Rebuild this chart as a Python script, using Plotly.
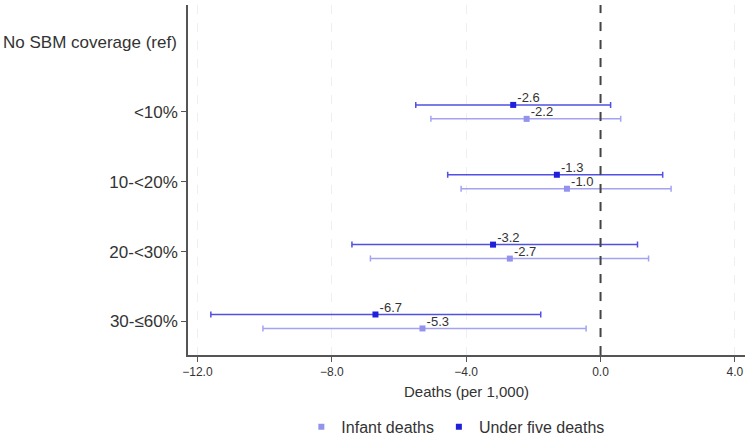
import plotly.graph_objects as go

categories = ["No SBM coverage (ref)", "<10%", "10-<20%", "20-<30%", "30-≤60%"]
# Estimates (only non-reference categories)
u5_est = [-2.6, -1.3, -3.2, -6.7]
u5_lo = [-5.5, -4.55, -7.4, -11.6]
u5_hi = [0.3, 1.85, 1.1, -1.78]
inf_est = [-2.2, -1.0, -2.7, -5.3]
inf_lo = [-5.05, -4.15, -6.85, -10.05]
inf_hi = [0.6, 2.1, 1.43, -0.43]
u5_labels = ["-2.6", "-1.3", "-3.2", "-6.7"]
inf_labels = ["-2.2", "-1.0", "-2.7", "-5.3"]
xticks = [-12, -8, -4, 0, 4]

ypos = list(range(1, len(categories)))
off = 0.1
lab = 0.085
FONT = "Liberation Sans, Arial"

fig = go.Figure()

series = [
    ("Infant deaths", inf_est, inf_lo, inf_hi, inf_labels, +off, "#9393ee", "#a3a3f2"),
    ("Under five deaths", u5_est, u5_lo, u5_hi, u5_labels, -off, "#2020dc", "#5050e4"),
]
for name, est, lo, hi, labels, o, mcol, lcol in series:
    fig.add_trace(go.Scatter(
        x=est, y=[p + o for p in ypos], mode="markers",
        name=name,
        marker=dict(symbol="square", size=6, color=mcol),
        error_x=dict(type="data", symmetric=False,
                     array=[h - e for h, e in zip(hi, est)],
                     arrayminus=[e - l for e, l in zip(est, lo)],
                     color=lcol, thickness=1.5, width=3),
    ))
for name, est, lo, hi, labels, o, mcol, lcol in series:
    fig.add_trace(go.Scatter(
        x=est, y=[p + o - lab for p in ypos], mode="markers+text",
        marker=dict(size=5, opacity=0),
        text=labels, textposition="middle right", showlegend=False,
        textfont=dict(family=FONT, size=13, color="#333333"),
        hoverinfo="skip",
    ))

fig.add_shape(type="line", x0=0, x1=0, xref="x", y0=0, y1=1, yref="paper",
              line=dict(color="#444444", width=2, dash="dash"))

fig.add_annotation(x=0, xref="paper", xanchor="right", xshift=-9,
                   y=0, yref="y", text=categories[0], showarrow=False,
                   font=dict(family=FONT, size=17, color="#333333"))

fig.update_layout(
    width=749, height=437,
    margin=dict(l=188, r=4, t=5, b=82, autoexpand=False),
    plot_bgcolor="white", paper_bgcolor="white",
    font=dict(family=FONT, color="#333333"),
    showlegend=True,
    legend=dict(orientation="h", x=0.48, xanchor="center", y=-0.205, yanchor="middle",
                font=dict(size=16), tracegroupgap=0),
    xaxis=dict(range=[-12.28, 4.3], tickvals=xticks, tickformat=".1f",
               automargin=False,
               showline=True, linecolor="#555555", linewidth=1.5,
               ticks="outside", ticklen=5, tickcolor="#555555",
               tickfont=dict(size=12), zeroline=False,
               showgrid=True, gridcolor="#efefef", griddash="dash",
               title=dict(text="Deaths (per 1,000)", font=dict(size=15), standoff=8)),
    yaxis=dict(range=[4.48, -0.53], tickvals=ypos, ticktext=categories[1:],
               automargin=False,
               showline=True, linecolor="#555555", linewidth=1.5,
               ticks="outside", ticklen=5, tickcolor="#555555",
               tickfont=dict(size=17), showgrid=False, zeroline=False),
)

fig.write_html("out.html", config={"displayModeBar": False},
               post_script="document.body.style.margin='0';document.body.style.overflow='hidden';")
